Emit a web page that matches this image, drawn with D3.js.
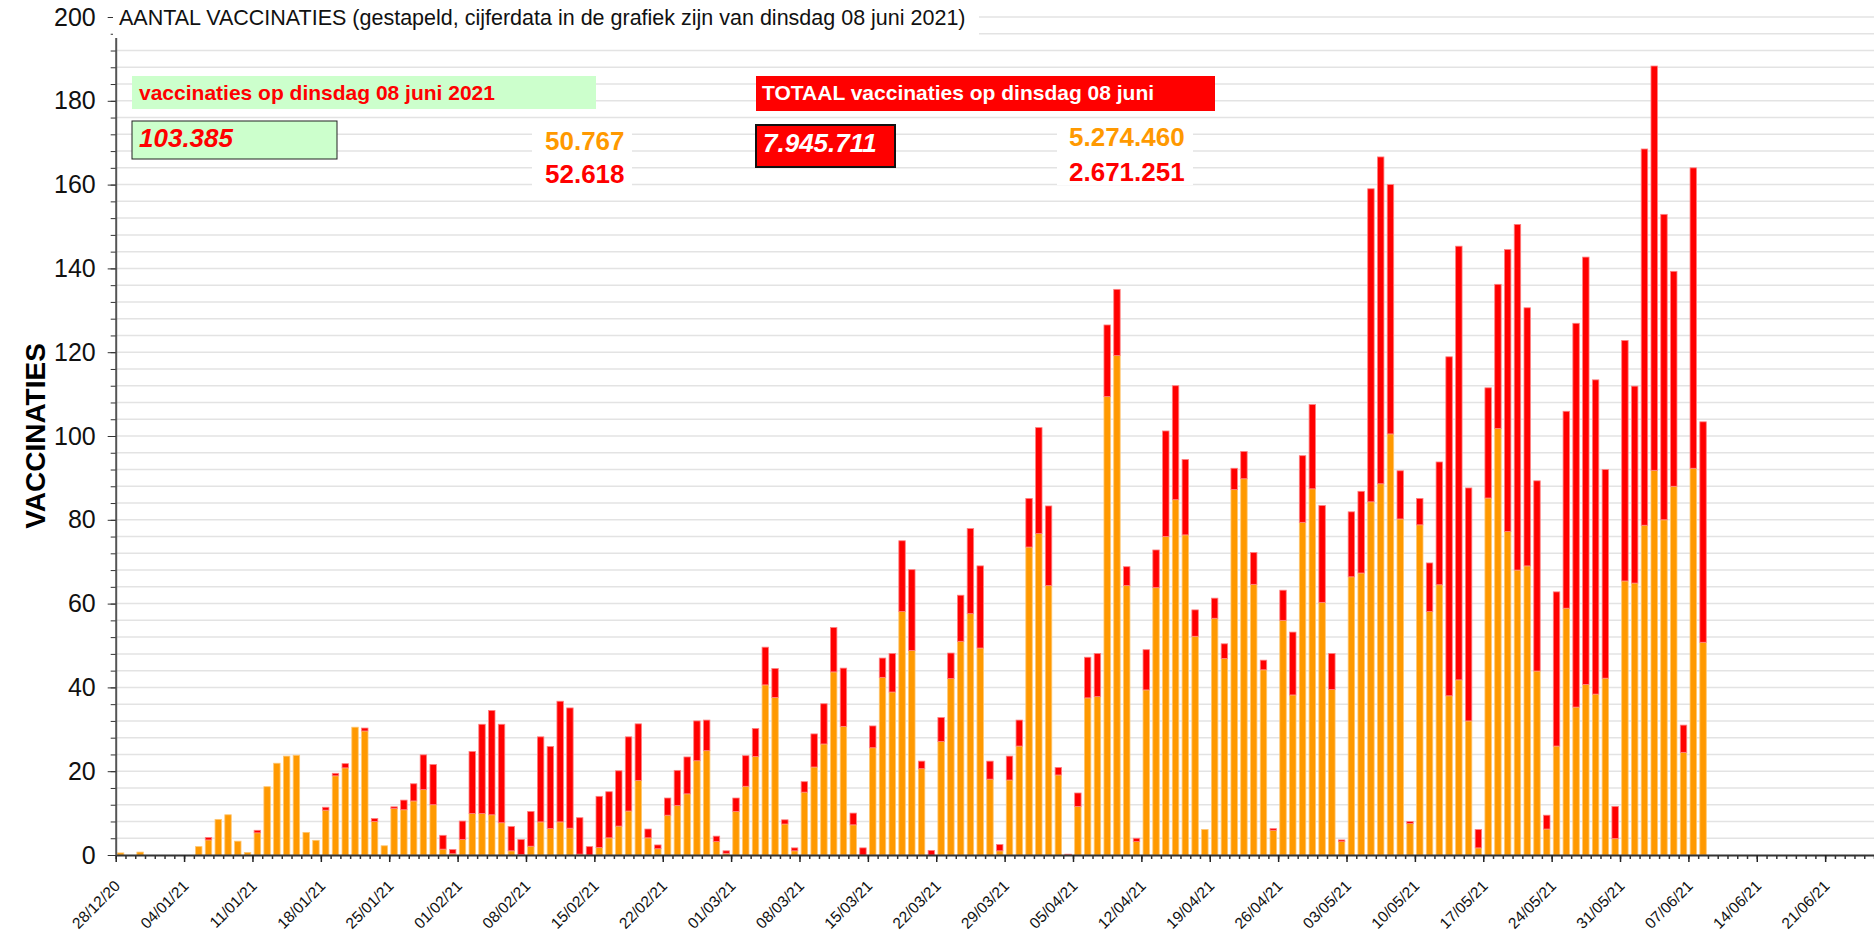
<!DOCTYPE html>
<html>
<head>
<meta charset="utf-8">
<script src="https://cdn.jsdelivr.net/npm/d3@7"></script>
<style>
body { margin: 0; background: #fff; }
svg { display: block; font-family: "Liberation Sans", Arial, sans-serif; }
</style>
</head>
<body>
<svg class="chart" width="1874" height="934"></svg>
<script>
// dagen: 28/12/20 t/m 08/06/21, waarden in duizendtallen
const startDatum = new Date(Date.UTC(2020, 11, 28))
const eindDatum = new Date(Date.UTC(2021, 5, 26))

// eerste prik (oranje)
const eerstePrik = [
  0.5, 0, 0.7, 0, 0, 0, 0, 0, 2.0, 3.6, 8.5, 9.6, 3.3, 0.6,
  5.3, 16.3, 21.9, 23.6, 23.8, 5.4, 3.5, 10.7, 18.9, 20.8, 30.5, 29.6, 8.0, 2.2,
  11.1, 10.8, 12.9, 15.6, 12.0, 1.4, 0.3, 3.7, 9.9, 9.9, 9.6, 7.7, 1.0, 0.1,
  2.1, 7.9, 6.3, 7.9, 6.4, 0.2, 0, 1.8, 4.1, 6.9, 10.5, 17.8, 4.1, 1.5,
  9.5, 11.8, 14.6, 22.5, 24.9, 3.2, 0.4, 10.4, 16.4, 23.5, 40.6, 37.6, 7.4, 1.0,
  15.0, 21.0, 26.5, 43.7, 30.7, 7.2, 0, 25.6, 42.4, 38.9, 58.1, 48.8, 20.6, 0,
  27.1, 42.1, 51.0, 57.6, 49.4, 18.1, 1.0, 17.9, 26.0, 73.5, 76.7, 64.3, 19.1, 0,
  11.6, 37.5, 37.8, 109.4, 119.2, 64.3, 3.2, 39.4, 63.8, 76.0, 84.8, 76.4, 52.2, 6.1,
  56.5, 46.9, 87.2, 89.8, 64.6, 44.2, 5.9, 56.0, 38.2, 79.4, 87.4, 60.3, 39.5, 3.2,
  66.4, 67.3, 84.3, 88.6, 100.5, 80.2, 7.5, 78.8, 58.1, 64.5, 38.0, 41.8, 32.0, 1.7,
  85.2, 101.8, 77.2, 68.0, 69.0, 43.9, 6.2, 26.0, 58.9, 35.3, 40.7, 38.4, 42.2, 3.9,
  65.4, 64.9, 78.7, 91.8, 80.0, 88.0, 24.5, 92.3, 50.767
]

// tweede prik (rood)
const tweedePrik = [
  0, 0, 0, 0, 0, 0, 0, 0, 0, 0.6, 0, 0, 0, 0,
  0.6, 0, 0, 0, 0, 0, 0, 0.7, 0.6, 1.0, 0, 0.7, 0.7, 0,
  0.4, 2.3, 4.1, 8.3, 9.6, 3.3, 1.0, 4.4, 14.8, 21.3, 24.9, 23.5, 5.8, 3.6,
  8.3, 20.3, 19.6, 28.8, 28.7, 8.7, 2.0, 12.2, 11.0, 13.2, 17.7, 13.5, 2.1, 0.9,
  4.1, 8.4, 8.8, 9.5, 7.3, 1.3, 0.6, 3.2, 7.3, 6.7, 9.0, 6.9, 1.0, 0.7,
  2.5, 7.9, 9.6, 10.6, 13.9, 2.8, 1.7, 5.2, 4.6, 9.2, 16.9, 19.3, 1.8, 1.1,
  5.7, 6.1, 11.0, 20.3, 19.6, 4.3, 1.5, 5.7, 6.2, 11.6, 25.3, 19.0, 1.8, 0.2,
  3.2, 9.7, 10.3, 17.1, 15.8, 4.5, 0.8, 9.6, 9.0, 25.2, 27.2, 18.0, 6.3, 0,
  4.8, 3.5, 5.1, 6.5, 7.6, 2.3, 0.4, 7.2, 15.0, 15.9, 20.1, 23.1, 8.6, 0.4,
  15.5, 19.5, 74.7, 78.0, 59.5, 11.5, 0.5, 6.3, 11.6, 29.3, 80.9, 103.5, 55.6, 4.4,
  26.3, 34.4, 67.3, 82.5, 61.6, 45.4, 3.3, 36.8, 47.0, 91.6, 102.0, 75.0, 49.8, 7.7,
  57.4, 47.0, 89.8, 96.5, 72.9, 51.3, 6.5, 71.7, 52.618
]

const titel = "AANTAL VACCINATIES (gestapeld, cijferdata in de grafiek zijn van dinsdag 08 juni 2021)"
const dagTekst = "vaccinaties op dinsdag 08 juni 2021"
const dagTotaal = "103.385"
const dagEerste = "50.767"
const dagTweede = "52.618"
const totaalTekst = "TOTAAL vaccinaties op dinsdag 08 juni"
const totaal = "7.945.711"
const totaalEerste = "5.274.460"
const totaalTweede = "2.671.251"

const yTicks = d3.range(0, 201, 20)
const yMinor = d3.range(0, 201, 4)

const oranje = "#ff9900"
const rood = "#ff0000"

let svg = d3.select("svg.chart")
let width = +svg.attr("width")

let x = d3.scaleUtc()
    .domain([startDatum, eindDatum])
    .range([115.7, width])

let y = d3.scaleLinear()
    .domain([0, 200])
    .range([855, 17])

let data = eerstePrik.map((v, i) => ({
  dag: d3.utcDay.offset(startDatum, i),
  eerste: v,
  tweede: tweedePrik[i]
}))

// rasterlijnen
svg.append("g")
  .selectAll("line")
  .data(yMinor.slice(1))
  .enter().append("line")
    .attr("x1", x.range()[0])
    .attr("x2", width)
    .attr("y1", d => y(d))
    .attr("y2", d => y(d))
    .attr("stroke", "#e3e3e3")
    .attr("stroke-width", 1.5)

// staven
let dagBreedte = x(d3.utcDay.offset(startDatum, 1)) - x(startDatum)
let barW = dagBreedte * 0.66

let bar = svg.append("g")
  .selectAll("g")
  .data(data)
  .enter().append("g")
    .attr("transform", d => `translate(${x(d.dag) + (dagBreedte - barW) / 2},0)`)

bar.filter(d => d.eerste > 0).append("rect")
    .attr("width", barW)
    .attr("y", d => y(d.eerste))
    .attr("height", d => y(0) - y(d.eerste))
    .attr("fill", oranje)
    .attr("stroke", "#ffc670")
    .attr("stroke-width", 0.8)

bar.filter(d => d.tweede > 0).append("rect")
    .attr("width", barW)
    .attr("y", d => y(d.eerste + d.tweede))
    .attr("height", d => y(d.eerste) - y(d.eerste + d.tweede))
    .attr("fill", rood)
    .attr("stroke", "#ff8080")
    .attr("stroke-width", 0.8)

// x-as: dagstreepjes en maandagen met label
let xDag = svg.append("g")
    .attr("transform", `translate(0,${y(0)})`)
    .call(d3.axisBottom(x).ticks(d3.utcDay.every(1)).tickSize(4).tickSizeOuter(0).tickFormat(""))
xDag.select(".domain").attr("stroke", "#333").attr("stroke-width", 2)
xDag.selectAll(".tick line").attr("stroke", "#333").attr("stroke-width", 1.5)

let xWeek = svg.append("g")
    .attr("transform", `translate(0,${y(0)})`)
    .call(d3.axisBottom(x).ticks(d3.utcMonday.every(1)).tickSize(7).tickFormat(d3.utcFormat("%d/%m/%y")))
xWeek.select(".domain").remove()
xWeek.selectAll(".tick line").attr("stroke", "#222").attr("stroke-width", 1.5)
xWeek.selectAll("text")
    .attr("x", 0)
    .attr("y", 0)
    .attr("dy", 0)
    .attr("transform", "translate(5,32) rotate(-45)")
    .style("text-anchor", "end")
    .style("font-size", "15.5px")
    .style("font-family", "Liberation Sans, Arial, sans-serif")
    .attr("fill", "#111")

// y-as
let yAs = svg.append("g")
    .attr("transform", `translate(${x.range()[0]},0)`)
    .call(d3.axisLeft(y).tickValues(yMinor).tickSize(5).tickSizeOuter(0).tickFormat(""))
yAs.select(".domain").attr("stroke", "#555").attr("stroke-width", 2)
yAs.selectAll(".tick line").attr("stroke", "#333")

let yLab = svg.append("g")
    .attr("transform", `translate(${x.range()[0]},0)`)
    .call(d3.axisLeft(y).tickValues(yTicks).tickSize(8).tickPadding(12))
yLab.select(".domain").remove()
yLab.selectAll(".tick line").attr("stroke", "#333")
yLab.selectAll("text")
    .style("font-size", "25px")
    .style("font-family", "Liberation Sans, Arial, sans-serif")
    .attr("fill", "#111")

svg.append("text")
    .attr("transform", "translate(45,436) rotate(-90)")
    .attr("text-anchor", "middle")
    .style("font-size", "28px")
    .style("font-weight", "bold")
    .text("VACCINATIES")

// titel
svg.append("rect")
    .attr("x", 113).attr("y", 0).attr("width", 866).attr("height", 38)
    .attr("fill", "#fff")
svg.append("text")
    .attr("x", 119).attr("y", 25)
    .style("font-size", "21.5px")
    .attr("fill", "#111")
    .text(titel)

// dagcijfers
svg.append("rect")
    .attr("x", 132).attr("y", 76).attr("width", 464).attr("height", 33)
    .attr("fill", "#ccffcc")
svg.append("text")
    .attr("x", 139).attr("y", 100)
    .style("font-size", "21px").style("font-weight", "bold")
    .attr("fill", rood)
    .text(dagTekst)

svg.append("rect")
    .attr("x", 132).attr("y", 121).attr("width", 205).attr("height", 38)
    .attr("fill", "#ccffcc").attr("stroke", "#222").attr("stroke-width", 1)
svg.append("text")
    .attr("x", 139).attr("y", 147)
    .style("font-size", "26px").style("font-weight", "bold").style("font-style", "italic")
    .attr("fill", rood)
    .text(dagTotaal)

svg.append("rect")
    .attr("x", 532).attr("y", 124).attr("width", 100).attr("height", 66)
    .attr("fill", "#fff")
svg.append("text")
    .attr("x", 545).attr("y", 150)
    .style("font-size", "26px").style("font-weight", "bold")
    .attr("fill", oranje)
    .text(dagEerste)
svg.append("text")
    .attr("x", 545).attr("y", 183)
    .style("font-size", "26px").style("font-weight", "bold")
    .attr("fill", rood)
    .text(dagTweede)

// totalen
svg.append("rect")
    .attr("x", 756).attr("y", 76).attr("width", 459).attr("height", 35)
    .attr("fill", rood)
svg.append("text")
    .attr("x", 762).attr("y", 100)
    .style("font-size", "21px").style("font-weight", "bold")
    .attr("fill", "#fff")
    .text(totaalTekst)

svg.append("rect")
    .attr("x", 756).attr("y", 125).attr("width", 139).attr("height", 42)
    .attr("fill", rood).attr("stroke", "#111").attr("stroke-width", 2)
svg.append("text")
    .attr("x", 763).attr("y", 152)
    .style("font-size", "26px").style("font-weight", "bold").style("font-style", "italic")
    .attr("fill", "#fff")
    .text(totaal)

svg.append("rect")
    .attr("x", 1057).attr("y", 123).attr("width", 136).attr("height", 62)
    .attr("fill", "#fff")
svg.append("text")
    .attr("x", 1069).attr("y", 146)
    .style("font-size", "26px").style("font-weight", "bold")
    .attr("fill", oranje)
    .text(totaalEerste)
svg.append("text")
    .attr("x", 1069).attr("y", 181)
    .style("font-size", "26px").style("font-weight", "bold")
    .attr("fill", rood)
    .text(totaalTweede)
</script>
</body>
</html>
